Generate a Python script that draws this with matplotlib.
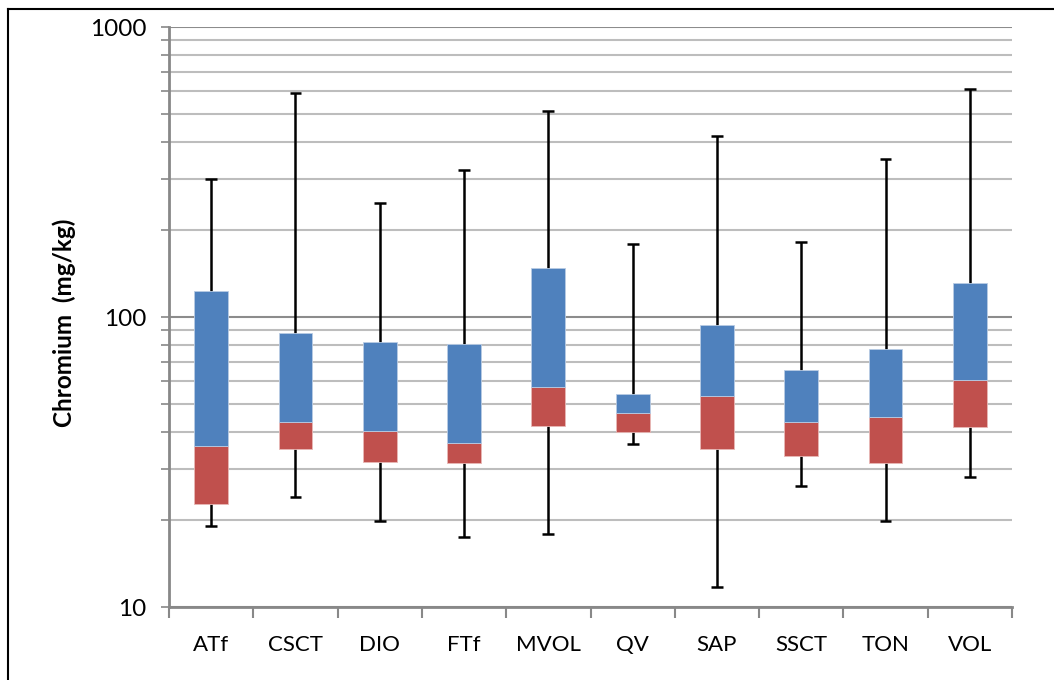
import matplotlib.pyplot as plt
from matplotlib.lines import Line2D
from matplotlib.ticker import FixedLocator, NullFormatter, LogLocator
import numpy as np

plt.rcParams['font.family'] = ['Lato', 'DejaVu Sans']

# summary statistics per rock group (mg/kg)
grupos = ['ATf', 'CSCT', 'DIO', 'FTf', 'MVOL', 'QV', 'SAP', 'SSCT', 'TON', 'VOL']
minimo = [19.0, 23.9, 19.8, 17.5, 17.8, 36.4, 11.7, 26.1, 19.8, 28.1]
q1 = [22.6, 35.2, 31.5, 31.3, 42.0, 40.0, 35.0, 33.1, 31.3, 41.7]
mediana = [35.8, 43.3, 40.6, 36.7, 57.2, 46.6, 53.2, 43.3, 45.1, 60.4]
q3 = [123, 88.4, 81.7, 80.4, 147, 54.1, 93.6, 65.9, 77.3, 131]
maximo = [300, 593, 248, 322, 514, 179, 421, 182, 351, 612]

azul = '#4F81BD'
rojo = '#C0504D'
gris = '#888888'

fig = plt.figure(figsize=(10.54, 6.8), dpi=100)
ax = fig.add_axes([169/1054, 1 - 607/680, (1012 - 169)/1054, (607 - 27)/680])

x = np.arange(len(grupos))
q1 = np.array(q1); mediana = np.array(mediana); q3 = np.array(q3)

# whiskers behind the boxes
ax.vlines(x, minimo, maximo, color='black', lw=1.8, zorder=2)
ax.hlines(minimo, x - 0.07, x + 0.07, color='black', lw=1.8, zorder=2)
ax.hlines(maximo, x - 0.07, x + 0.07, color='black', lw=1.8, zorder=2)

ax.bar(x, mediana - q1, bottom=q1, width=0.4, color=rojo, edgecolor='#E8B8B6', lw=0.6, zorder=3)
ax.bar(x, q3 - mediana, bottom=mediana, width=0.4, color=azul, edgecolor='#B9CCE4', lw=0.6, zorder=3)

ax.set_yscale('log')
ax.set_ylim(10, 1000)
ax.set_xlim(-0.5, len(grupos) - 0.5)

# gridlines: darker at decades, lighter in between
ax.yaxis.set_major_locator(FixedLocator([10, 100, 1000]))
ax.yaxis.set_minor_locator(LogLocator(base=10, subs=np.arange(2, 10)))
ax.yaxis.set_minor_formatter(NullFormatter())
ax.set_yticklabels(['10', '100', '1000'])
ax.grid(axis='y', which='major', color='#8C8C8C', lw=1.5, zorder=0)
ax.grid(axis='y', which='minor', color='#BDBDBD', lw=1.5, zorder=0)
ax.set_axisbelow(True)

ax.tick_params(axis='y', which='both', direction='out', length=6, width=1.2, color=gris,
               labelsize=17.5, pad=10)

# category labels centred, ticks at the boundaries
ax.set_xticks(np.arange(len(grupos) + 1) - 0.5)
ax.set_xticklabels([])
ax.set_xticks(x, minor=True)
ax.set_xticklabels(grupos, minor=True)
ax.tick_params(axis='x', which='major', direction='out', length=8, width=1.5, color=gris)
ax.tick_params(axis='x', which='minor', length=0, labelsize=16, pad=20)

for s in ['top', 'right']:
    ax.spines[s].set_visible(False)
for s in ['left', 'bottom']:
    ax.spines[s].set_color(gris)
    ax.spines[s].set_linewidth(2)

ax.set_ylabel('Chromium  (mg/kg)', fontsize=17.5, fontweight='bold')
ax.yaxis.set_label_coords(-0.1105, 0.49)

# frame lines along the left and top edges
fig.add_artist(Line2D([7.5/1054, 7.5/1054], [0, 1 - 9/680], color='black', lw=1.5))
fig.add_artist(Line2D([7.5/1054, 1], [1 - 9/680, 1 - 9/680], color='black', lw=1.5))

fig.savefig('out.png', dpi=100)
